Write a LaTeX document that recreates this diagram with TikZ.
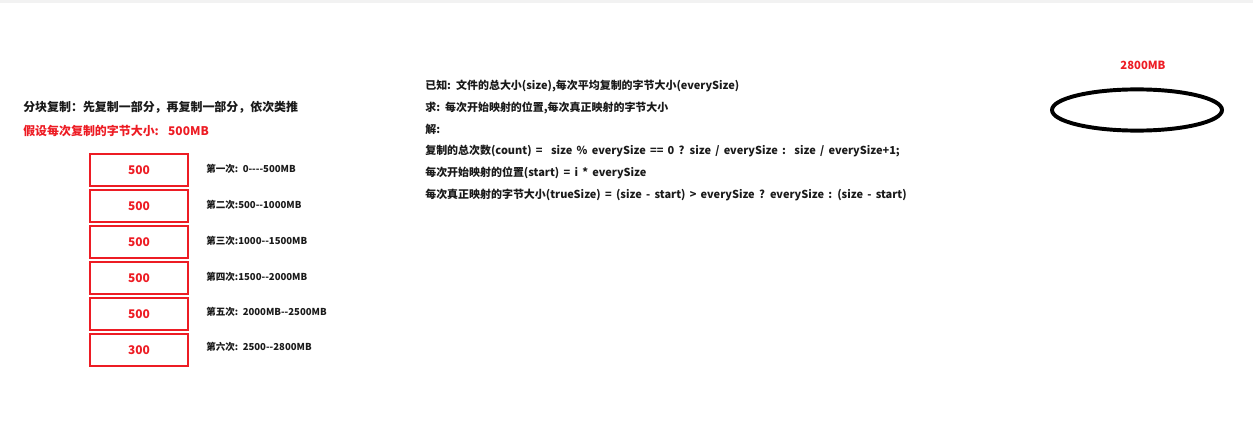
\documentclass[tikz,border=0pt]{standalone}
\usepackage{fontspec}
\setmainfont{Noto Sans CJK SC}[Ligatures=TeXOff,WordSpace=1.7]
\usetikzlibrary{positioning,shapes.geometric}
\definecolor{boxred}{HTML}{ED1C24}
\definecolor{ink}{HTML}{1A1A1A}

\begin{document}
\begin{tikzpicture}[node distance=0.1cm, font=\bfseries,
  blk/.style={draw=boxred,line width=1.8pt,minimum width=2.45cm,minimum height=0.8cm,outer sep=0pt,text=boxred,font=\bfseries\fontsize{8.5}{10}\selectfont},
  step label/.style={text=ink,inner sep=0pt,anchor=west,font=\bfseries\fontsize{6.8}{8}\selectfont},
  note/.style={text=ink,inner sep=0pt,anchor=west,font=\bfseries\fontsize{7.8}{9}\selectfont}]
\useasboundingbox (0,0) rectangle (31.325,-11);
\fill[gray!10] (0,0) rectangle (31.325,-0.07);
% left part: the blocks
\node[note,font=\bfseries\fontsize{8.5}{10}\selectfont] (head) at (0.575,-2.675) {分块复制：先复制一部分，再复制一部分，依次类推};
\node[note,text=boxred,font=\bfseries\fontsize{8.5}{10}\selectfont,below=0.6cm of head.west,anchor=west] (guess) {假设每次复制的字节大小:\ \ 500MB};
\node[blk] (b1) at (3.475,-4.25) {500};
\node[blk,below=of b1] (b2) {500};
\node[blk,below=of b2] (b3) {500};
\node[blk,below=of b3] (b4) {500};
\node[blk,below=of b4] (b5) {500};
\node[blk,below=of b5] (b6) {300};
\node[step label,right=0.45cm of b1,yshift=0.03cm] (s1) {第一次: 0----500MB};
\node[step label,right=0.45cm of b2,yshift=0.03cm] (s2) {第二次:500--1000MB};
\node[step label,right=0.45cm of b3,yshift=0.03cm] (s3) {第三次:1000--1500MB};
\node[step label,right=0.45cm of b4,yshift=0.03cm] (s4) {第四次:1500--2000MB};
\node[step label,right=0.45cm of b5,yshift=0.06cm] (s5) {第五次: 2000MB--2500MB};
\node[step label,right=0.45cm of b6,yshift=0.08cm] (s6) {第六次: 2500--2800MB};
% middle part: the formulas
\node[note] (k1) at (10.625,-2.15) {已知: 文件的总大小(size),每次平均复制的字节大小(everySize)};
\node[note,below=0.545cm of k1.west,anchor=west] (k2) {求: 每次开始映射的位置,每次真正映射的字节大小};
\node[note,below=0.545cm of k2.west,anchor=west] (k3) {解:};
\node[note,below=0.545cm of k3.west,anchor=west] (k4) {复制的总次数(count) =\ \ size \% everySize == 0 ? size / everySize :\ \ size / everySize+1;};
\node[note,below=0.545cm of k4.west,anchor=west] (k5) {每次开始映射的位置(start) = i * everySize};
\node[note,below=0.545cm of k5.west,anchor=west] (k6) {每次真正映射的字节大小(trueSize) = (size - start) > everySize ? everySize : (size - start)};
% right part: the file
\node[draw=black,line width=2.8pt,ellipse,minimum width=4.25cm,minimum height=1.03cm] (file) at (28.425,-2.75) {};
\node[text=boxred,font=\bfseries\fontsize{8}{9}\selectfont] (total) at (28.575,-1.625) {2800MB};
\end{tikzpicture}
\end{document}
